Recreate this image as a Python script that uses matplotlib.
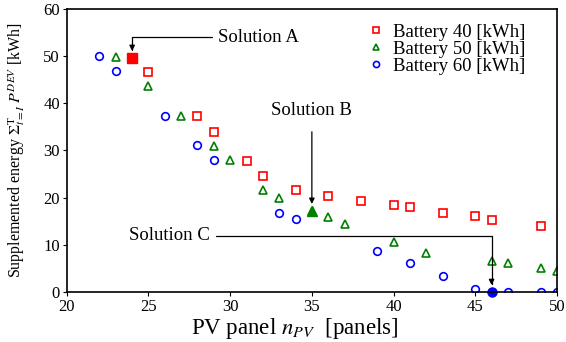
import matplotlib
matplotlib.use('Agg')
import matplotlib.pyplot as plt

plt.rcParams['font.family'] = ['Liberation Serif', 'DejaVu Serif']
plt.rcParams['mathtext.fontset'] = 'stix'

# ── 데이터 ──────────────────────────────────────────────
pv_40 = [24, 25, 28, 29, 31, 32, 34, 36, 38, 40, 41, 43, 45, 46, 49]
en_40 = [49.6, 46.6, 37.2, 34.0, 27.7, 24.6, 21.6, 20.3, 19.4, 18.4, 18.0, 16.7, 16.1, 15.3, 13.9]

pv_50 = [23, 25, 27, 29, 30, 32, 33, 35, 36, 37, 40, 42, 46, 47, 49, 50]
en_50 = [49.8, 43.6, 37.3, 31.0, 28.0, 21.6, 19.9, 17.2, 15.9, 14.5, 10.6, 8.3, 6.6, 6.1, 5.0, 4.5]

pv_60 = [22, 23, 26, 28, 29, 33, 34, 39, 41, 43, 45, 46, 47, 49, 50]
en_60 = [50.0, 46.8, 37.4, 31.1, 28.0, 16.8, 15.5, 8.7, 6.1, 3.4, 0.7, 0.0, 0.0, 0.0, 0.0]

# 선택된 해 (A: 40kWh, B: 50kWh, C: 60kWh)
sol_a = (24, 49.6)
sol_b = (35, 17.2)
sol_c = (46, 0.0)

fig = plt.figure(figsize=(5.66, 3.42), dpi=100)
ax = fig.add_axes([0.118, 0.146, 0.866, 0.828])

mk = dict(linestyle='none', markersize=5.5, markeredgewidth=1.2, markerfacecolor='none')
ax.plot(pv_40, en_40, marker='s', color='red', label='Battery 40 [kWh]', **mk)
ax.plot(pv_50, en_50, marker='^', color='green', label='Battery 50 [kWh]', **mk)
ax.plot(pv_60, en_60, marker='o', color='blue', label='Battery 60 [kWh]', **mk)

ax.plot(*sol_a, marker='s', color='red', markersize=6.5, clip_on=False)
ax.plot(*sol_b, marker='^', color='green', markersize=7, clip_on=False)
ax.plot(*sol_c, marker='o', color='blue', markersize=6.5, clip_on=False)

arr = dict(arrowstyle='-|>', color='black', lw=0.9, mutation_scale=8, shrinkB=5)
ax.annotate('Solution A', xy=sol_a, xytext=(31.7, 54.0), fontsize=13.5,
            ha='center', va='center',
            arrowprops=dict(connectionstyle='angle,angleA=180,angleB=90,rad=0', **arr))
ax.annotate('Solution B', xy=sol_b, xytext=(35, 38.4), fontsize=13.5,
            ha='center', va='center',
            arrowprops=dict(shrinkA=7, **arr))
ax.annotate('Solution C', xy=sol_c, xytext=(26.3, 11.9), fontsize=13.5,
            ha='center', va='center',
            arrowprops=dict(connectionstyle='angle,angleA=0,angleB=90,rad=0', **arr))

ax.set_xlim(20, 50)
ax.set_ylim(0, 60)
ax.set_xticks(range(20, 51, 5))
ax.set_yticks(range(0, 61, 10))
ax.tick_params(labelsize=12, length=3, pad=2)
ax.set_xlabel(r'PV panel $n_{PV}$  [panels]', fontsize=16.5)
ax.xaxis.set_label_coords(0.465, -0.085)
ax.set_ylabel(r'Supplemented energy $\Sigma_{t=I}^{\mathrm{T}}\ P^{DEV}$ [kWh]', fontsize=11.5)
ax.yaxis.set_label_coords(-0.082, 0.5)

ax.legend(loc='upper right', bbox_to_anchor=(0.95, 0.975), frameon=False, fontsize=13.5,
          handletextpad=0.3, handlelength=1.2, labelspacing=0.0, borderaxespad=0.0,
          markerscale=0.8)

for s in ax.spines.values():
    s.set_linewidth(1.2)

fig.savefig('out.png', dpi=100)
